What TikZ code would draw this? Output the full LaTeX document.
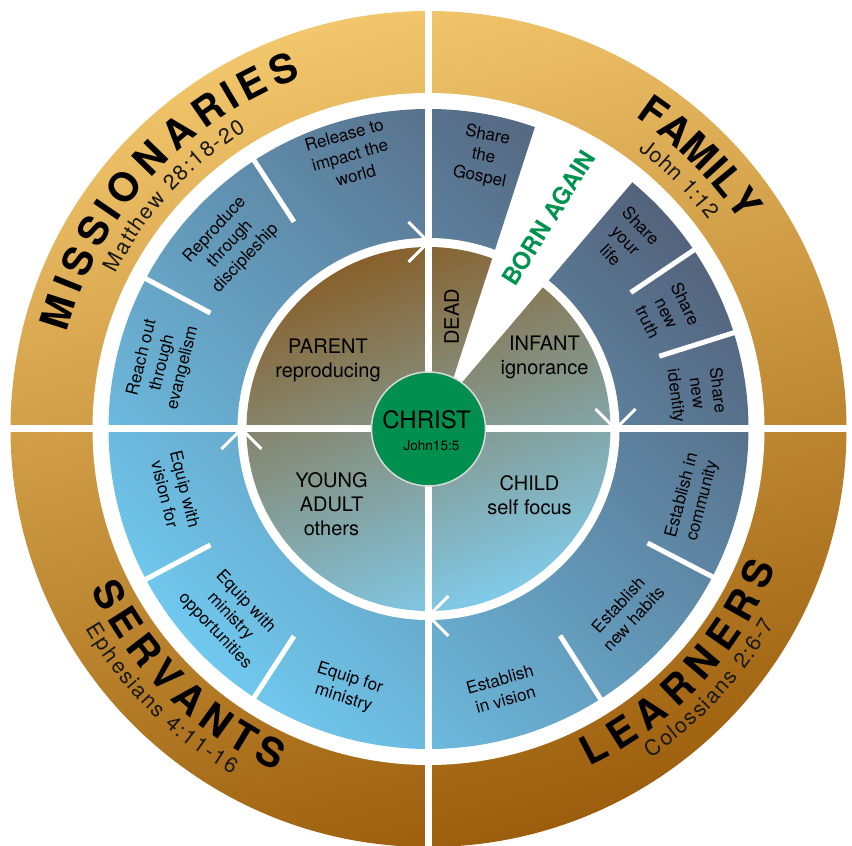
\documentclass[tikz,border=0pt]{standalone}
\usepackage{fontspec}
\setmainfont{TeX Gyre Heros}
\usetikzlibrary{decorations.text}

\definecolor{goldtop}{HTML}{F2C66C}
\definecolor{goldbot}{HTML}{9C5E0C}
\definecolor{bluelight}{HTML}{70C8EE}
\definecolor{bluedark}{HTML}{54637C}
\definecolor{browntop}{HTML}{88612C}
\definecolor{brownbot}{HTML}{80CAE8}
\definecolor{christgreen}{HTML}{008F4E}
\definecolor{borngreen}{HTML}{00934F}

\newcommand\ringfont{\fontsize{40}{40}\selectfont\bfseries}
\newcommand\versefont{\fontsize{21.5}{21.5}\selectfont}

\tikzset{
  gap/.style={white, line width=7pt},
  divider/.style={white, line width=5pt},
  chevron/.style={white, line width=3pt},
  stage/.style={align=center, font=\fontsize{20}{24}\selectfont},
  task/.style={align=center, font=\fontsize{17}{21}\selectfont},
  ringtext/.style={decorate, decoration={text effects along path, text={#1},
      text effects/.cd, text along path, fit text to path,
      characters={anchor=base, inner sep=0pt, font=\ringfont, text=black}}},
  versetext/.style={decorate, decoration={text effects along path, text={#1},
      text effects/.cd, text along path, fit text to path,
      characters={anchor=base, inner sep=0pt, font=\versefont, text=black!90}}},
}

\begin{document}
\begin{tikzpicture}[x=1pt, y=1pt]
  \useasboundingbox (-428.5,-417) rectangle (423.5,429);

  % rings
  \shade[top color=goldtop, bottom color=goldbot, shading angle=15] (0,0) circle (418);
  \fill[white] (0,0) circle (336);
  \shade[top color=bluelight, bottom color=bluedark, shading angle=135] (0,0) circle (320);
  \fill[white] (0,0) circle (191);
  \shade[top color=browntop, bottom color=brownbot, shading angle=20] (0,0) circle (182);

  % quadrants
  \draw[gap] (-420,0) -- (420,0);
  \draw[gap] (0,-420) -- (0,420);

  % steps in the blue ring
  \draw[divider] (123:247) -- (123:322);
  \draw[divider] (152:247) -- (152:322);
  \draw[divider] (208:247) -- (208:322);
  \draw[divider] (237:247) -- (237:322);
  \draw[divider] (302.5:245) -- (302.5:322);
  \draw[divider] (332.5:247) -- (332.5:322);
  \draw[divider] (34:244) -- (34:322);
  \draw[divider] (17.5:242) -- (17.5:322);

  % born again wedge
  \coordinate (apex) at (17.5,28);
  \fill[white] (apex) -- +(72:300) -- +(49.6:300) -- cycle;

  % arrows round the circle
  \draw[chevron, rotate=90] (207,20) -- (187,0) -- (167,20);
  \draw[chevron, rotate=0] (207,20) -- (187,0) -- (167,20);
  \draw[chevron, rotate=270] (207,20) -- (187,0) -- (167,20);
  \draw[chevron, rotate=180] (207,20) -- (187,0) -- (167,20);

  % center
  \node[circle, fill=christgreen, draw=white!85!black, line width=1.5pt,
        minimum size=114, inner sep=0pt] (christ) at (0,0) {};
  \node[font=\fontsize{24}{24}\selectfont] (christname) at (-2,9) {CHRIST};
  \node[font=\fontsize{13.5}{14}\selectfont] (christverse) at (3,-17) {John15:5};

  % stages
  \node[stage] (parent) at (-100.5,68.5) {PARENT\\reproducing};
  \node[stage, rotate=90] (dead) at (23,112) {DEAD};
  \node[stage] (infant) at (116,72) {INFANT\\ignorance};
  \node[stage] (young) at (-97,-75) {YOUNG\\ADULT\\others};
  \node[stage] (child) at (101,-66) {CHILD\\self focus};
  \node[font=\fontsize{24}{24}\selectfont\bfseries, text=borngreen, rotate=58]
        (born) at (120,211) {BORN AGAIN};

  % tasks
  \node[task, rotate=-11.4] (gospel) at (78.6:278) {Share\\the\\Gospel};
  \node[task, rotate=-46] (life) at (43.7:273) {Share\\your\\life};
  \node[task, rotate=-64] (truth) at (26:265) {Share\\new\\truth};
  \node[task, rotate=-82.5] (identity) at (7.6:270) {Share\\new\\identity};
  \node[task, rotate=75.3] (community) at (345.3:273) {Establish in\\community};
  \node[task, rotate=47.2] (habits) at (317.2:269) {Establish\\new habits};
  \node[task, rotate=15.9] (vision) at (285.9:271) {Establish\\in vision};
  \node[task, rotate=-17.5] (ministry) at (252.5:272) {Equip for\\ministry};
  \node[task, rotate=-46.6] (opps) at (223.4:273) {Equip with\\ministry\\opportunities};
  \node[task, rotate=-76] (equipvision) at (193.9:261) {Equip with\\vision for};
  \node[task, rotate=76] (reach) at (166:274) {Reach out\\through\\evangelism};
  \node[task, rotate=47] (reproduce) at (137:271) {Reproduce\\through\\discipleship};
  \node[task, rotate=16] (release) at (106:285) {Release to\\impact the\\world};

  % ring labels
  \path[ringtext={MISSIONARIES}] (165:374) arc[start angle=165, end angle=109.9, radius=374];
  \path[versetext={Matthew 28:18-20}] (153.6:349) arc[start angle=153.6, end angle=121.5, radius=349];

  \path[ringtext={FAMILY}] (56.5:374) arc[start angle=56.5, end angle=33.5, radius=374];
  \path[versetext={John 1:12}] (53:349) arc[start angle=53, end angle=36.7, radius=349];

  \path[ringtext={SERVANTS}] (205.4:374) arc[start angle=205.4, end angle=246, radius=374];
  \path[versetext={Ephesians 4:11-16}] (210.2:397) arc[start angle=210.2, end angle=240.4, radius=397];

  \path[ringtext={LEARNERS}] (295.5:374) arc[start angle=295.5, end angle=338.3, radius=374];
  \path[versetext={Colossians 2:6-7}] (304:397) arc[start angle=304, end angle=330.6, radius=397];
\end{tikzpicture}
\end{document}
